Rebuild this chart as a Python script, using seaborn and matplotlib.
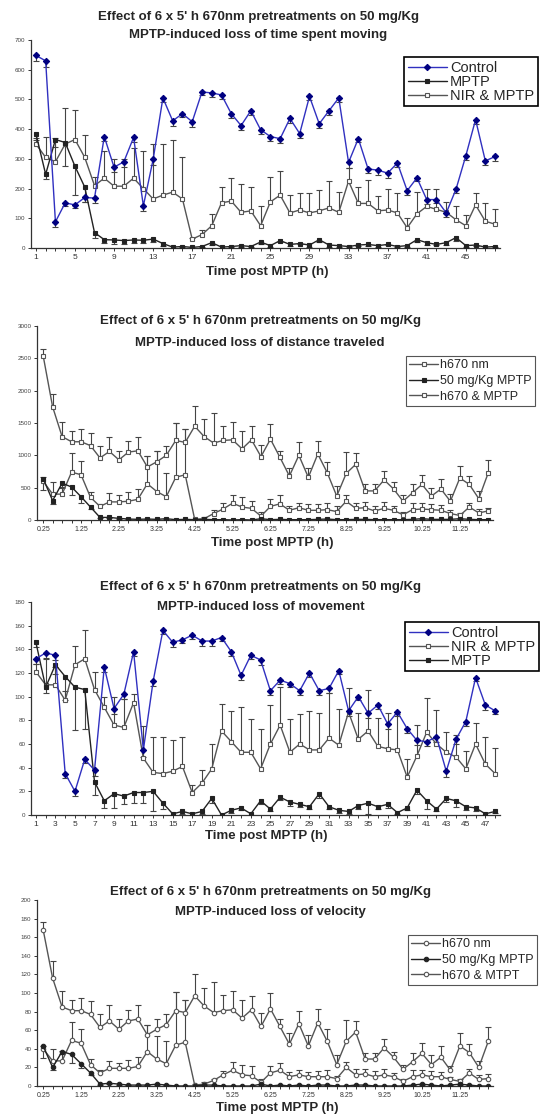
import numpy as np
import matplotlib
matplotlib.use("Agg")
import matplotlib.pyplot as plt
import seaborn as sns

W, H = 551, 1115

# x positions: panels 1 and 3 are hourly bins 1..48, panels 2 and 4 are 15 min bins
hour_idx = np.arange(1, 49)
bin_idx = np.arange(0, 48)
bin_labels = ["0.25", "1.25", "2.25", "3.25", "4.25", "5.25",
              "6.25", "7.25", "8.25", "9.25", "10.25", "11.25"]

# panel 1 - time spent moving
ctrl_time = [648, 630, 88, 152, 145, 170, 168, 375, 272, 290,
             372, 142, 298, 505, 428, 452, 425, 525, 522, 515,
             452, 412, 462, 398, 375, 368, 436, 385, 510, 418,
             462, 505, 288, 368, 266, 262, 252, 286, 193, 236,
             163, 163, 118, 198, 310, 432, 293, 308]
ctrl_time_err = [18, 20, 18, 12, 12, 15, 15, 15, 15, 18,
                 15, 18, 20, 15, 18, 12, 18, 10, 15, 12,
                 15, 15, 15, 15, 15, 15, 15, 15, 12, 15,
                 15, 12, 18, 12, 15, 15, 15, 12, 15, 12,
                 15, 12, 15, 12, 15, 15, 15, 15]
mptp_time = [385, 248, 365, 355, 275, 205, 52, 28, 27, 25,
             27, 26, 30, 15, 3, 5, 2, 5, 18, 3,
             5, 8, 5, 20, 8, 25, 12, 15, 10, 28,
             10, 8, 5, 10, 12, 8, 12, 5, 8, 28,
             18, 12, 18, 35, 8, 10, 3, 5]
mptp_time_err = [20, 15, 25, 80, 95, 50, 18, 12, 12, 10,
                 10, 10, 10, 8, 3, 3, 2, 3, 8, 3,
                 3, 5, 3, 5, 5, 5, 5, 3, 5, 8,
                 5, 3, 3, 3, 5, 3, 3, 3, 3, 8,
                 8, 3, 8, 10, 5, 3, 2, 3]
nir_time = [350, 305, 290, 350, 365, 305, 210, 235, 208, 208,
            235, 200, 165, 178, 188, 165, 30, 45, 75, 152,
            158, 120, 125, 75, 155, 178, 118, 128, 118, 125,
            135, 120, 225, 150, 150, 125, 128, 118, 68, 115,
            140, 130, 120, 95, 75, 145, 90, 80]
nir_time_err = [20, 70, 80, 120, 100, 75, 30, 90, 90, 90,
                100, 125, 185, 172, 176, 142, 5, 15, 40, 53,
                77, 95, 80, 65, 85, 82, 62, 57, 67, 70,
                90, 70, 45, 55, 80, 50, 72, 67, 32, 75,
                60, 70, 35, 45, 35, 40, 60, 50]

# panel 2 - distance traveled
h670_dist = [2540, 1750, 1290, 1210, 1210, 1150, 960, 1060, 930, 1050,
             1070, 820, 900, 1000, 1230, 1200, 1450, 1290, 1190, 1230,
             1240, 1100, 1240, 980, 1250, 970, 680, 1000, 660, 1020,
             730, 370, 720, 860, 450, 450, 620, 480, 290, 420,
             550, 370, 480, 290, 650, 550, 330, 730]
h670_dist_err = [100, 200, 225, 160, 200, 200, 180, 230, 130, 170,
                 220, 170, 170, 150, 270, 200, 320, 270, 460, 220,
                 270, 270, 210, 180, 230, 100, 120, 200, 140, 200,
                 170, 150, 330, 170, 110, 110, 140, 100, 90, 140,
                 150, 130, 160, 110, 180, 130, 120, 200]
mptp_dist = [640, 300, 570, 510, 360, 200, 40, 40, 25, 15,
             10, 15, 10, 20, 5, 10, 5, 10, 5, 5,
             0, 5, 0, 20, 5, 10, 5, 5, 5, 10,
             15, 5, 5, 10, 10, 5, 5, 5, 5, 10,
             20, 10, 10, 10, 20, 10, 5, 5]
mptp_dist_err = [180, 50, 60, 130, 100, 30, 10, 10, 8, 5,
                 5, 5, 5, 5, 3, 5, 3, 5, 3, 3,
                 0, 3, 0, 10, 3, 5, 3, 3, 3, 5,
                 5, 3, 3, 5, 5, 3, 3, 3, 3, 5,
                 10, 5, 5, 5, 10, 5, 3, 3]
combo_dist = [600, 400, 400, 740, 700, 350, 210, 280, 280, 290,
              320, 560, 440, 360, 660, 700, 10, 20, 100, 170,
              260, 200, 180, 60, 210, 250, 150, 190, 150, 150,
              160, 130, 290, 180, 190, 140, 180, 150, 80, 160,
              170, 160, 150, 100, 70, 200, 110, 140]
combo_dist_err = [60, 190, 100, 300, 220, 80, 40, 140, 100, 140,
                  160, 430, 620, 360, 840, 700, 10, 30, 50, 100,
                  130, 150, 120, 70, 120, 130, 70, 70, 90, 100,
                  100, 90, 100, 90, 90, 80, 100, 70, 50, 100,
                  90, 90, 80, 50, 40, 70, 60, 50]

# panel 3 - movement
ctrl_move = [132, 137, 135, 35, 20, 47, 38, 125, 90, 102,
             138, 55, 113, 156, 146, 148, 152, 147, 147, 150,
             138, 118, 135, 131, 105, 114, 111, 105, 120, 105,
             107, 122, 88, 100, 86, 93, 77, 87, 73, 63,
             62, 66, 37, 64, 79, 116, 93, 88]
ctrl_move_err = [4, 4, 4, 4, 4, 3, 5, 4, 5, 4,
                 4, 6, 4, 3, 4, 3, 3, 4, 4, 3,
                 4, 4, 3, 4, 4, 3, 3, 4, 3, 4,
                 4, 3, 4, 3, 4, 3, 4, 3, 4, 4,
                 4, 4, 5, 4, 4, 3, 4, 3]
nir_move = [121, 110, 110, 97, 127, 132, 106, 91, 76, 74,
            95, 48, 36, 35, 37, 41, 19, 27, 39, 71,
            62, 53, 53, 39, 60, 76, 53, 60, 55, 55,
            65, 59, 87, 64, 71, 58, 56, 55, 32, 50,
            70, 60, 53, 49, 39, 60, 43, 35]
nir_move_err = [7, 22, 15, 8, 16, 24, 15, 9, 24, 24,
                7, 27, 30, 31, 26, 25, 6, 11, 21, 23,
                26, 38, 28, 34, 33, 32, 28, 25, 33, 31,
                38, 31, 20, 22, 35, 24, 30, 30, 15, 26,
                29, 29, 17, 19, 15, 18, 23, 22]
mptp_move = [146, 108, 127, 117, 108, 106, 28, 12, 18, 16,
             19, 19, 20, 10, 1, 3, 1, 3, 14, 0,
             4, 6, 1, 12, 5, 15, 11, 9, 7, 18,
             7, 4, 3, 8, 10, 7, 9, 2, 6, 21,
             12, 5, 14, 12, 7, 6, 1, 3]
mptp_move_err = [4, 5, 8, 20, 36, 33, 11, 6, 12, 7,
                 9, 9, 17, 5, 1, 2, 1, 2, 4, 0,
                 2, 2, 1, 3, 2, 2, 3, 2, 2, 4,
                 2, 2, 2, 3, 9, 2, 3, 1, 2, 3,
                 7, 2, 3, 5, 3, 3, 1, 1]

# panel 4 - velocity
h670_vel = [168, 116, 85, 81, 81, 77, 63, 70, 61, 70,
            72, 55, 61, 66, 81, 79, 97, 86, 79, 81,
            82, 73, 82, 64, 83, 64, 45, 67, 43, 68,
            48, 23, 48, 58, 29, 29, 41, 31, 18, 26,
            35, 23, 31, 17, 43, 36, 20, 48]
h670_vel_err = [8, 18, 17, 11, 14, 14, 14, 17, 11, 12,
                15, 11, 11, 11, 20, 14, 23, 19, 33, 17,
                20, 20, 15, 14, 17, 8, 12, 14, 12, 15,
                13, 10, 23, 12, 6, 6, 10, 6, 5, 10,
                11, 10, 12, 4, 14, 9, 7, 15]
mptp_vel = [43, 20, 37, 34, 24, 14, 2, 3, 2, 1,
            1, 1, 2, 1, 0, 0, 0, 1, 1, 0,
            0, 0, 0, 2, 0, 1, 0, 1, 0, 1,
            1, 0, 0, 1, 1, 0, 0, 0, 0, 1,
            2, 1, 0, 1, 2, 1, 0, 0]
mptp_vel_err = [13, 3, 3, 9, 5, 2, 1, 1, 1, 0,
                0, 0, 1, 0, 0, 0, 0, 0, 0, 0,
                0, 0, 0, 1, 0, 0, 0, 0, 0, 0,
                0, 0, 0, 0, 0, 0, 0, 0, 0, 0,
                1, 0, 0, 0, 1, 0, 0, 0]
combo_vel = [40, 27, 27, 49, 46, 23, 14, 19, 19, 19,
             21, 37, 29, 24, 44, 47, 1, 2, 6, 12,
             17, 12, 11, 4, 14, 17, 10, 12, 10, 10,
             10, 8, 20, 12, 13, 10, 12, 10, 5, 10,
             12, 10, 10, 7, 5, 14, 7, 8]
combo_vel_err = [3, 13, 11, 20, 15, 6, 3, 8, 6, 9,
                 10, 29, 25, 24, 57, 46, 1, 2, 2, 4,
                 9, 11, 10, 3, 8, 8, 5, 5, 5, 6,
                 7, 3, 6, 6, 5, 6, 6, 4, 3, 7,
                 5, 6, 5, 3, 3, 4, 5, 5]

title_top = "Effect of 6 x 5' h 670nm pretreatments on 50 mg/Kg"

BLUE_LINE = "#3030c0"
BLUE_MARK = "#000080"
DARK = "#222222"
GREY = "#555555"


def add_errbars(ax, x, y, err, up, color="#444444"):
    y = np.asarray(y, dtype=float)
    err = np.asarray(err, dtype=float)
    end = y + err if up else y - err
    ax.vlines(x, y, end, colors=color, linewidth=0.8, zorder=1)
    ax.plot(x, end, ls="none", marker="_", ms=4.5, mew=0.8, color=color, zorder=1)


def add_series(ax, x, y, err, label, up, line_color, marker, face, edge, ms=3.2):
    add_errbars(ax, x, y, err, up)
    sns.lineplot(x=x, y=y, ax=ax, color=line_color, linewidth=1.0,
                 marker=marker, markersize=ms, markerfacecolor=face,
                 markeredgecolor=edge, markeredgewidth=0.8,
                 label=label, zorder=3)


def style_axes(ax, ymax, ystep, xlim, xticks, xlabels, xfont):
    ax.set_xlim(*xlim)
    ax.set_ylim(0, ymax)
    ax.set_yticks(np.arange(0, ymax + 1, ystep))
    ax.set_xticks(xticks)
    ax.set_xticklabels(xlabels)
    sns.despine(ax=ax)
    for s in ["left", "bottom"]:
        ax.spines[s].set_color("#333333")
        ax.spines[s].set_linewidth(0.9)
    ax.tick_params(axis="both", length=2.5, width=0.7, color="#333333", pad=1.5)
    ax.tick_params(axis="y", labelsize=4.5, labelcolor="#444444")
    ax.tick_params(axis="x", labelsize=xfont, labelcolor="#333333")
    ax.set_xlabel("")
    ax.set_ylabel("")


def add_legend(fig, ax, order, anchor_px, fontsize, handlelength, edge, lw, spacing):
    handles, labels = ax.get_legend_handles_labels()
    lookup = dict(zip(labels, handles))
    leg = ax.legend([lookup[l] for l in order], order, loc="upper left",
                    bbox_to_anchor=(anchor_px[0] / W, 1 - anchor_px[1] / H),
                    bbox_transform=fig.transFigure, fontsize=fontsize,
                    frameon=True, fancybox=False, edgecolor=edge, framealpha=1,
                    borderpad=0.25, labelspacing=spacing, handlelength=handlelength,
                    handletextpad=0.2, borderaxespad=0)
    leg.get_frame().set_linewidth(lw)


def add_titles(fig, second_line, cx, y1, y2, xlabel_pos):
    fig.text(cx / W, 1 - y1 / H, title_top, ha="center", va="center",
             fontsize=9.5, fontweight="bold")
    fig.text(cx / W, 1 - y2 / H, second_line, ha="center", va="center",
             fontsize=9.5, fontweight="bold")
    fig.text(xlabel_pos[0] / W, 1 - xlabel_pos[1] / H, "Time post MPTP (h)",
             ha="center", va="center", fontsize=9.5, fontweight="bold")


sns.set_style("ticks")
plt.rcParams["font.family"] = ["Liberation Sans", "DejaVu Sans"]

fig = plt.figure(figsize=(W / 100, H / 100), dpi=100)

hour_labels_4 = [str(h) if (h - 1) % 4 == 0 else "" for h in hour_idx]
hour_labels_2 = [str(h) if (h - 1) % 2 == 0 else "" for h in hour_idx]
bin_tick_labels = [bin_labels[i // 4] if i % 4 == 0 else "" for i in bin_idx]

# panel 1
ax1 = fig.add_axes([31 / W, 1 - 248 / H, 469 / W, 208 / H])
add_series(ax1, hour_idx, nir_time, nir_time_err, "NIR & MPTP", True, GREY, "s", "white", GREY, 3.0)
add_series(ax1, hour_idx, mptp_time, mptp_time_err, "MPTP", False, DARK, "s", DARK, DARK, 3.0)
add_series(ax1, hour_idx, ctrl_time, ctrl_time_err, "Control", False, BLUE_LINE, "D", BLUE_MARK, BLUE_MARK, 3.2)
style_axes(ax1, 700, 100, (0.5, 48.5), hour_idx, hour_labels_4, 6)
add_legend(fig, ax1, ["Control", "MPTP", "NIR & MPTP"], (404, 57), 10.5, 2.7, "black", 1.2, 0.0)
add_titles(fig, "MPTP-induced loss of time spent moving", 258, 17, 35, (267, 272))

# panel 2
ax2 = fig.add_axes([37 / W, 1 - 520 / H, 456 / W, 194 / H])
add_series(ax2, bin_idx, combo_dist, combo_dist_err, "h670 & MPTP", True, GREY, "s", "white", GREY, 3.0)
add_series(ax2, bin_idx, mptp_dist, mptp_dist_err, "50 mg/Kg MPTP", False, DARK, "s", DARK, DARK, 3.0)
add_series(ax2, bin_idx, h670_dist, h670_dist_err, "h670 nm", True, GREY, "s", "white", GREY, 3.0)
style_axes(ax2, 3000, 500, (-0.65, 47.5), bin_idx, bin_tick_labels, 5)
add_legend(fig, ax2, ["h670 nm", "50 mg/Kg MPTP", "h670 & MPTP"], (406, 356), 9, 2.3, "#555555", 0.8, 0.3)
add_titles(fig, "MPTP-induced loss of distance traveled", 260, 321, 343, (272, 543))

# panel 3
ax3 = fig.add_axes([31 / W, 1 - 815 / H, 469 / W, 213 / H])
add_series(ax3, hour_idx, nir_move, nir_move_err, "NIR & MPTP", True, GREY, "s", "white", GREY, 3.0)
add_series(ax3, hour_idx, mptp_move, mptp_move_err, "MPTP", False, DARK, "s", DARK, DARK, 3.0)
add_series(ax3, hour_idx, ctrl_move, ctrl_move_err, "Control", False, BLUE_LINE, "D", BLUE_MARK, BLUE_MARK, 3.2)
style_axes(ax3, 180, 20, (0.5, 48.5), hour_idx, hour_labels_2, 6)
add_legend(fig, ax3, ["Control", "NIR & MPTP", "MPTP"], (405, 622), 10.5, 2.7, "black", 1.2, 0.0)
add_titles(fig, "MPTP-induced loss of movement", 261, 587, 607, (266, 836))

# panel 4
ax4 = fig.add_axes([37 / W, 1 - 1086 / H, 456 / W, 186 / H])
add_series(ax4, bin_idx, combo_vel, combo_vel_err, "h670 & MTPT", True, GREY, "o", "white", GREY, 3.2)
add_series(ax4, bin_idx, mptp_vel, mptp_vel_err, "50 mg/Kg MPTP", False, DARK, "o", DARK, DARK, 3.2)
add_series(ax4, bin_idx, h670_vel, h670_vel_err, "h670 nm", True, GREY, "o", "white", GREY, 3.2)
style_axes(ax4, 200, 20, (-0.65, 47.5), bin_idx, bin_tick_labels, 5)
add_legend(fig, ax4, ["h670 nm", "50 mg/Kg MPTP", "h670 & MTPT"], (408, 935), 9, 2.3, "#555555", 0.8, 0.3)
add_titles(fig, "MPTP-induced loss of velocity", 270, 892, 912, (277, 1108))

fig.savefig("out.png", dpi=100, facecolor="white")
